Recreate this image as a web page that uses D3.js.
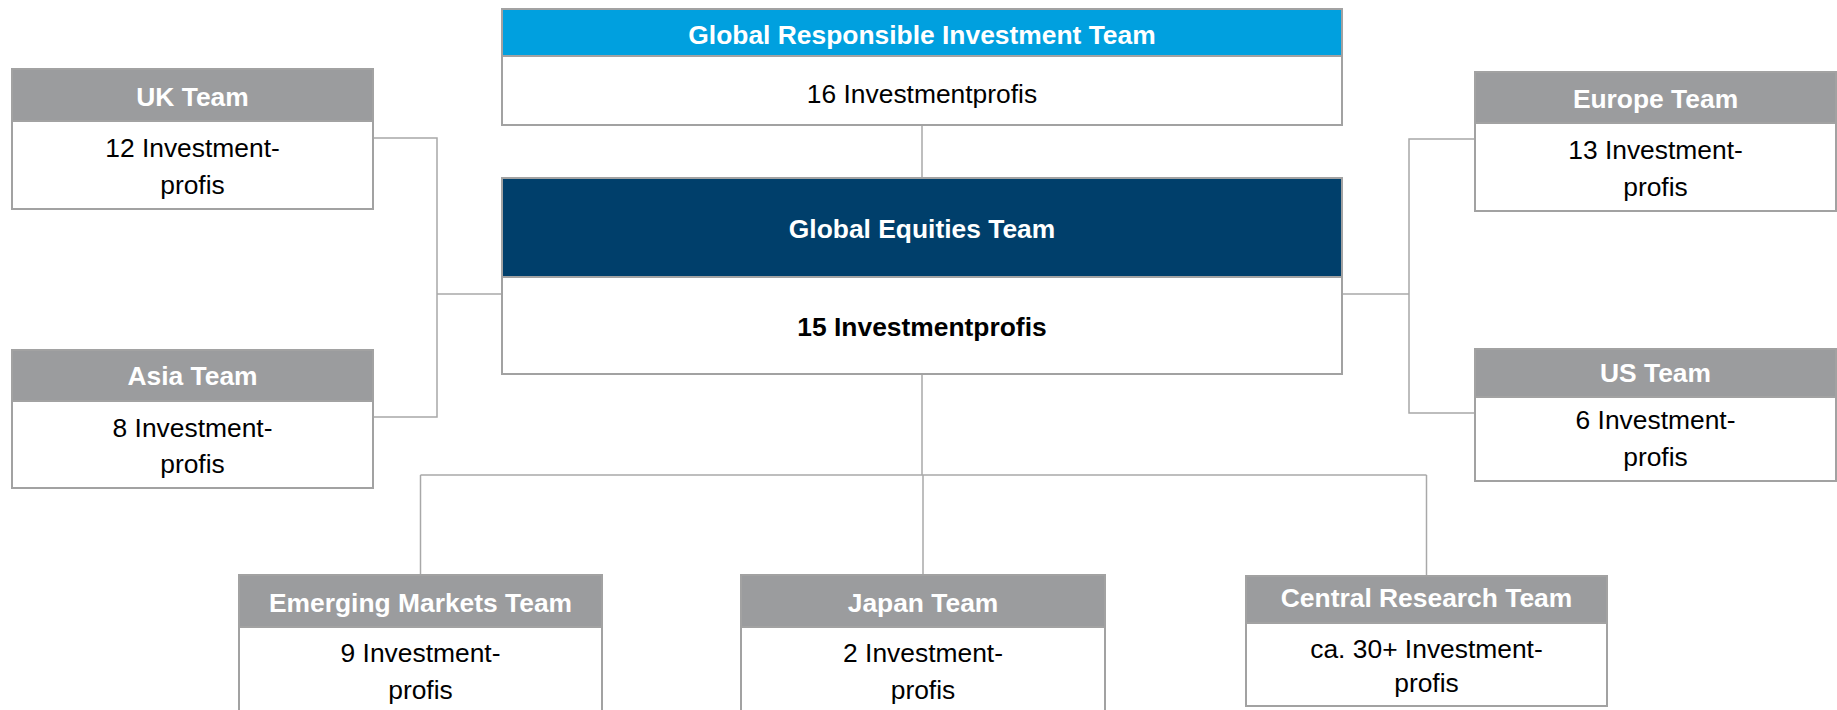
<!DOCTYPE html>
<html>
<head>
<meta charset="utf-8">
<script src="https://cdn.jsdelivr.net/npm/d3@7/dist/d3.min.js"></script>
<style>
  html, body { margin: 0; padding: 0; background: #fff; }
  svg { display: block; }
  text { font-family: "Liberation Sans", Arial, sans-serif; }
</style>
</head>
<body>
<svg id="chart" width="1837" height="710"></svg>
<script>
// ---- data ----
const teamIds   = ["gri", "ge", "uk", "asia", "europe", "us", "em", "japan", "cr"];
const teamNames = ["Global Responsible Investment Team", "Global Equities Team", "UK Team", "Asia Team",
                   "Europe Team", "US Team", "Emerging Markets Team", "Japan Team", "Central Research Team"];
const teamCounts = [["16 Investmentprofis"], ["15 Investmentprofis"], ["12 Investment-", "profis"],
                    ["8 Investment-", "profis"], ["13 Investment-", "profis"], ["6 Investment-", "profis"],
                    ["9 Investment-", "profis"], ["2 Investment-", "profis"], ["ca. 30+ Investment-", "profis"]];
const parentOf = ["ge", null, "ge", "ge", "ge", "ge", "ge", "ge", "ge"];

// ---- layout (geometry only) ----
const layout = {
  gri:    {x0: 502,  x1: 1342, y0: 9,   hy: 56,  y1: 125, fill: "#00a0df", hb: 44,  bb: [103], bold: false},
  ge:     {x0: 502,  x1: 1342, y0: 178, hy: 277, y1: 374, fill: "#003f6b", hb: 238, bb: [336], bold: true},
  uk:     {x0: 12,   x1: 373,  y0: 69,  hy: 121, y1: 209, fill: "#9b9c9e", hb: 106, bb: [157, 194]},
  asia:   {x0: 12,   x1: 373,  y0: 350, hy: 401, y1: 488, fill: "#9b9c9e", hb: 385, bb: [437, 473]},
  europe: {x0: 1475, x1: 1836, y0: 72,  hy: 123, y1: 211, fill: "#9b9c9e", hb: 108, bb: [159, 196]},
  us:     {x0: 1475, x1: 1836, y0: 349, hy: 397, y1: 481, fill: "#9b9c9e", hb: 382, bb: [429, 466]},
  em:     {x0: 239,  x1: 602,  y0: 575, hy: 627, y1: 724, fill: "#9b9c9e", hb: 612, bb: [662, 699]},
  japan:  {x0: 741,  x1: 1105, y0: 575, hy: 627, y1: 724, fill: "#9b9c9e", hb: 612, bb: [662, 699]},
  cr:     {x0: 1246, x1: 1607, y0: 576, hy: 623, y1: 706, fill: "#9b9c9e", hb: 607, bb: [658, 692]}
};

const teams = teamIds.map((id, i) => Object.assign({id, name: teamNames[i], lines: teamCounts[i], parent: parentOf[i]}, layout[id]));
const byId = Object.fromEntries(teams.map(t => [t.id, t]));

const svg = d3.select("#chart");
const lineColor = "#a8a8a8";
const borderColor = "#a2a2a2";
const fontSize = 26.4;
const cx = t => (t.x0 + t.x1) / 2;

// ---- connectors ----
const gLinks = svg.append("g").attr("fill", "none").attr("stroke", lineColor).attr("stroke-width", 1.5);
function seg(pts) {
  const p = d3.path();
  p.moveTo(pts[0][0], pts[0][1]);
  pts.slice(1).forEach(q => p.lineTo(q[0], q[1]));
  return p.toString();
}
const ge = byId.ge, gri = byId.gri;
const segs = [];
// GRI -> GE
segs.push([[cx(gri), 118], [cx(gri), ge.y0]]);
// left side (UK, Asia)
const lx = 437, ly = 294;
segs.push([[byId.uk.x1, 138], [lx, 138], [lx, 417], [byId.asia.x1, 417]]);
segs.push([[lx, ly], [ge.x0, ly]]);
// right side (Europe, US)
const rx = 1409;
segs.push([[byId.europe.x0, 139], [rx, 139], [rx, 413], [byId.us.x0, 413]]);
segs.push([[ge.x1, ly], [rx, ly]]);
// bottom bus
const busY = 475;
const bottom = ["em", "japan", "cr"].map(id => byId[id]);
segs.push([[cx(ge), ge.y1], [cx(ge), busY]]);
segs.push([[cx(bottom[0]), busY], [cx(bottom[2]), busY]]);
bottom.forEach(t => segs.push([[cx(t), busY], [cx(t), t.y0]]));
gLinks.selectAll("path").data(segs).join("path").attr("d", seg);

// ---- boxes ----
const g = svg.append("g").selectAll("g").data(teams).join("g");
g.append("rect")
  .attr("x", d => d.x0).attr("y", d => d.hy)
  .attr("width", d => d.x1 - d.x0).attr("height", d => d.y1 - d.hy)
  .attr("fill", "#fff").attr("stroke", borderColor).attr("stroke-width", 2);
g.append("rect")
  .attr("x", d => d.x0).attr("y", d => d.y0)
  .attr("width", d => d.x1 - d.x0).attr("height", d => d.hy - d.y0)
  .attr("fill", d => d.fill).attr("stroke", borderColor).attr("stroke-width", 2);
g.append("text")
  .attr("x", cx).attr("y", d => d.hb)
  .attr("text-anchor", "middle").attr("font-size", fontSize).attr("font-weight", "bold")
  .attr("fill", "#fff").text(d => d.name);
g.each(function(d) {
  d3.select(this).selectAll("text.body").data(d.lines.map((l, i) => ({l, y: d.bb[i], bold: d.bold, x: cx(d)})))
    .join("text").attr("class", "body")
    .attr("x", e => e.x).attr("y", e => e.y)
    .attr("text-anchor", "middle").attr("font-size", fontSize)
    .attr("font-weight", e => e.bold ? "bold" : "normal")
    .attr("fill", "#000").text(e => e.l);
});
</script>
</body>
</html>
